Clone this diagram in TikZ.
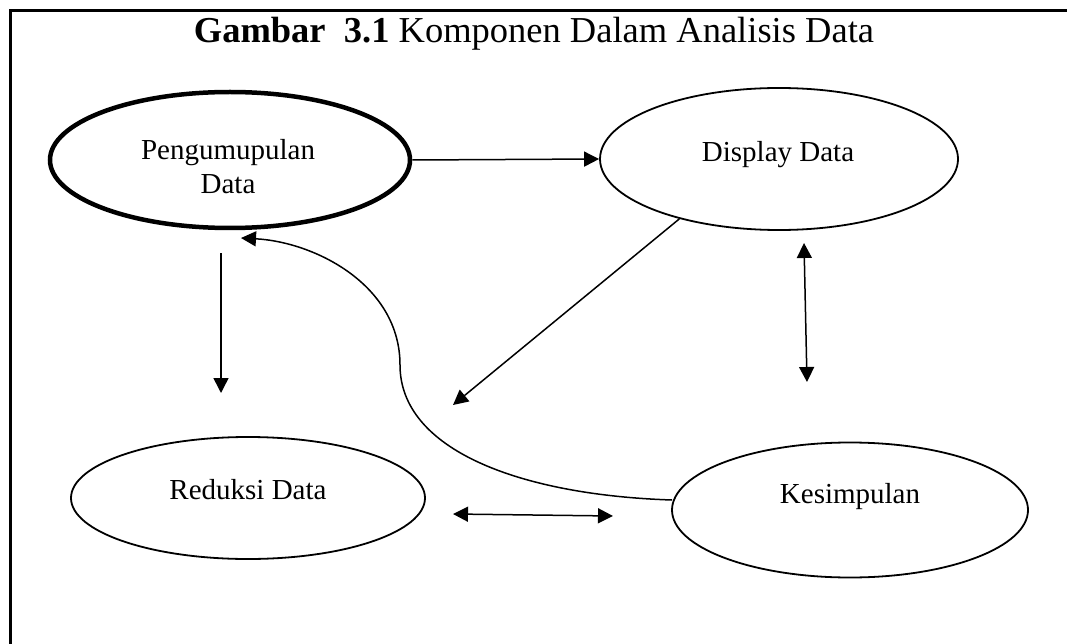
\documentclass[tikz,border=0pt]{standalone}
\usepackage{fontspec}
\setmainfont{Liberation Serif}
\usetikzlibrary{shapes.geometric,arrows.meta}
\tikzset{
  oval/.style={draw,ellipse,line width=1.8pt,inner sep=0pt},
  boldoval/.style={draw,ellipse,line width=4.5pt,inner sep=0pt},
  lbl/.style={inner sep=0pt,font=\fontsize{29}{34}\selectfont,align=center},
  conn/.style={line width=1.5pt,-{Triangle[length=15pt,width=15pt]}},
  dconn/.style={line width=1.5pt,{Triangle[length=15pt,width=15pt]}-{Triangle[length=15pt,width=15pt]}},
}
\begin{document}
\begin{tikzpicture}[x=1pt,y=-1pt]
\useasboundingbox (0,0) rectangle (1067,644);
% frame
\draw[line width=3pt] (10,644) -- (10,11) -- (1067,11);
% title
\node[inner sep=0pt,font=\fontsize{36.5}{40}\selectfont] (title) at (534,34) {\textbf{Gambar\ \ 3.1} Komponen Dalam Analisis Data};
% ellipses
\node[boldoval,minimum width=360pt,minimum height=136pt] (p) at (230,160) {};
\node[oval,minimum width=358pt,minimum height=142pt] (d) at (779,159) {};
\node[oval,minimum width=354pt,minimum height=122pt] (r) at (248,498) {};
\node[oval,minimum width=356pt,minimum height=135pt] (k) at (850,510) {};
% labels
\node[lbl] (pt) at (228,167) {Pengumupulan\\Data};
\node[lbl] (dt) at (778,155) {Display Data};
\node[lbl] (rt) at (248,490) {Reduksi Data};
\node[lbl] (kt) at (850,497) {Kesimpulan};
% free ends
\coordinate (dtip) at (453,405);
\coordinate (ptip) at (241,238);
\coordinate (downs) at (221,253);
\coordinate (downe) at (221,393);
\coordinate (vs) at (804,243);
\coordinate (ve) at (807,382);
\coordinate (hs) at (453,514);
\coordinate (he) at (613,516);
\coordinate (kw) at (672,500);
% connectors
\draw[conn] (p.east) -- (d.west);
\draw[conn] (downs) -- (downe);
\draw[conn] (d.211) -- (dtip);
\draw[dconn] (vs) -- (ve);
\draw[dconn] (hs) -- (he);
\draw[conn] (kw) .. controls (520,495) and (400,450) .. (400,365)
  .. controls (400,285) and (315,242) .. (ptip);
\end{tikzpicture}
\end{document}
